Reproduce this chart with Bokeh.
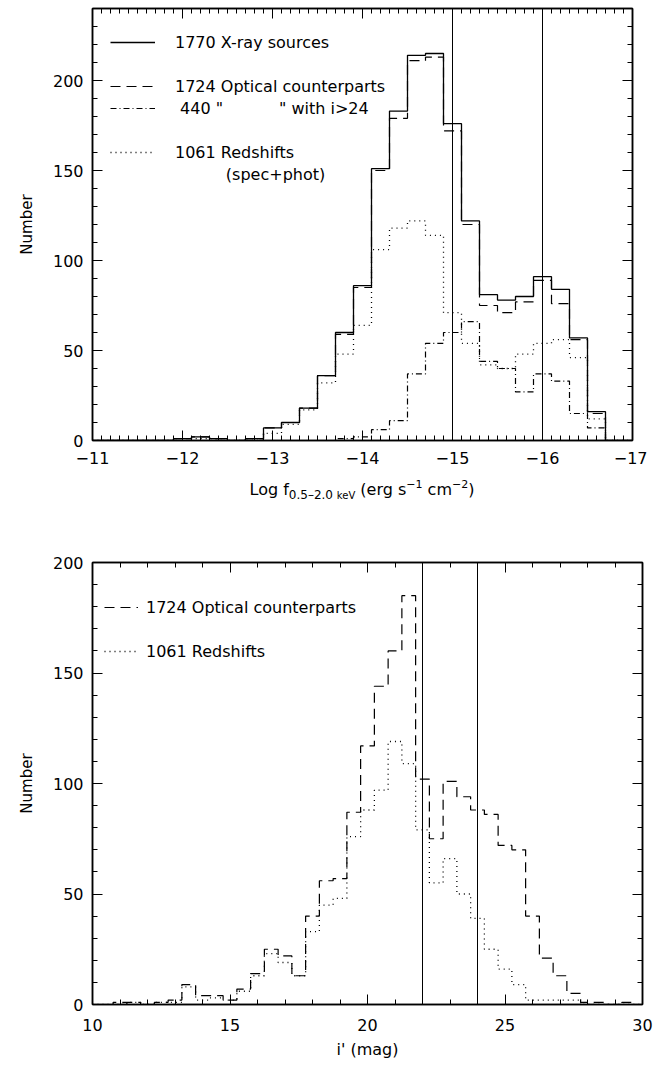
from bokeh.plotting import figure
from bokeh.layouts import column
from bokeh.models import (Range1d, SingleIntervalTicker, LinearAxis, Span,
                          Legend, LegendItem, Div, CustomLabelingPolicy)
from bokeh.embed import file_html
from bokeh.resources import INLINE

# ---------------- data: top panel (soft X-ray flux histogram) ----------------
flux_centers = [-11.0, -11.2, -11.4, -11.6, -11.8, -12.0, -12.2, -12.4, -12.6, -12.8,
                -13.0, -13.2, -13.4, -13.6, -13.8, -14.0, -14.2, -14.4, -14.6, -14.8,
                -15.0, -15.2, -15.4, -15.6, -15.8, -16.0, -16.2, -16.4, -16.6, -16.8, -17.0]
xray_sources = [0, 0, 0, 0, 0, 1, 2, 1, 0, 1,
                7, 10, 18, 36, 60, 86, 151, 183, 214, 215,
                176, 122, 81, 78, 80, 91, 84, 57, 16, 0, 0]
optical_cp = [0, 0, 0, 0, 0, 1, 2, 1, 0, 1,
              7, 10, 18, 36, 59, 85, 150, 179, 211, 213,
              172, 120, 75, 71, 77, 89, 76, 56, 15, 0, 0]
faint_i24 = [0, 0, 0, 0, 0, 0, 0, 0, 0, 0,
             0, 0, 0, 0, 1, 2, 6, 11, 37, 54,
             60, 66, 44, 40, 27, 37, 33, 15, 7, 0, 0]
redshifts = [0, 0, 0, 0, 0, 1, 1, 1, 0, 1,
             4, 9, 17, 32, 48, 64, 106, 118, 122, 114,
             71, 54, 42, 40, 48, 54, 56, 46, 12, 0, 0]
flux_marks = [-15, -16]
flux_tick_values = [-11, -12, -13, -14, -15, -16, -17]
flux_tick_labels = ["\u221211", "\u221212", "\u221213", "\u221214", "\u221215", "\u221216", "\u221217"]

# ---------------- data: bottom panel (i' magnitude histogram) ----------------
mag_centers = [10.0, 10.5, 11.0, 11.5, 12.0, 12.5, 13.0, 13.5, 14.0, 14.5,
               15.0, 15.5, 16.0, 16.5, 17.0, 17.5, 18.0, 18.5, 19.0, 19.5,
               20.0, 20.5, 21.0, 21.5, 22.0, 22.5, 23.0, 23.5, 24.0, 24.5,
               25.0, 25.5, 26.0, 26.5, 27.0, 27.5, 28.0, 28.5, 29.0, 29.5, 30.0]
mag_optical = [0, 0, 1, 1, 0, 1, 2, 9, 4, 4,
               2, 7, 14, 25, 22, 13, 40, 56, 57, 87,
               117, 144, 160, 185, 102, 75, 101, 94, 88, 86,
               72, 70, 40, 21, 13, 5, 1, 1, 0, 1, 0]
mag_redshift = [0, 0, 0, 1, 0, 1, 1, 8, 2, 3,
                2, 6, 13, 23, 19, 13, 33, 45, 48, 76,
                88, 97, 119, 109, 79, 55, 66, 50, 39, 25,
                16, 9, 2, 2, 2, 2, 0, 0, 0, 0, 0]
mag_marks = [22, 24]
mag_tick_values = [10, 15, 20, 25, 30]
mag_tick_labels = ["10", "15", "20", "25", "30"]

FONT = "DejaVu Sans"
SOLID, DASHED, DASHDOT, DOTTED = "solid", "10 6", "6 3 1 3", "1 4"

NO_LABELS = CustomLabelingPolicy(code="""
    const all = Array.from(indices.ones ? indices.ones() : indices)
    for (const i of all) indices.unset(i)
    return indices
""")


def style(p, xticker, yticker):
    p.xgrid.visible = False
    p.ygrid.visible = False
    p.outline_line_color = "black"
    p.outline_line_width = 1.5
    p.background_fill_color = "white"
    p.border_fill_color = "white"
    bx = p.below[0]
    ly = p.left[0]
    bx.ticker = xticker
    ly.ticker = yticker
    top = LinearAxis(ticker=xticker)
    right = LinearAxis(ticker=yticker)
    p.add_layout(top, "above")
    p.add_layout(right, "right")
    for ax in [bx, ly, top, right]:
        ax.axis_line_color = "black"
        ax.axis_line_width = 1.5
        ax.major_tick_in = 10
        ax.major_tick_out = 0
        ax.minor_tick_in = 5
        ax.minor_tick_out = 0
        ax.major_tick_line_color = "black"
        ax.minor_tick_line_color = "black"
        ax.major_tick_line_width = 1
        ax.minor_tick_line_width = 1
        ax.major_label_text_font = FONT
        ax.major_label_text_font_size = "16px"
        ax.major_label_text_color = "black"
        ax.axis_label_text_font = FONT
        ax.axis_label_text_font_style = "normal"
        ax.axis_label_text_color = "black"
    for ax in [top, right]:
        ax.major_label_policy = NO_LABELS
        ax.major_label_standoff = 0
        ax.major_label_text_font_size = "0px"
    bx.major_label_standoff = 11
    ly.major_label_standoff = 9
    ly.axis_label = "Number"
    ly.axis_label_text_font_size = "15px"
    ly.axis_label_standoff = 14
    return bx, ly


# ---------------- top figure ----------------
p1 = figure(frame_width=540, frame_height=432, output_backend="svg", toolbar_location=None,
            x_range=Range1d(-11, -17), y_range=Range1d(0, 240),
            min_border_left=92, min_border_right=15, min_border_top=8, min_border_bottom=32)
bx1, ly1 = style(p1, SingleIntervalTicker(interval=1, num_minor_ticks=10),
                 SingleIntervalTicker(interval=50, num_minor_ticks=5))
bx1.major_label_overrides = dict(zip(flux_tick_values, flux_tick_labels))

r_x = p1.step(flux_centers, xray_sources, mode="center", line_color="black",
              line_width=1.3, line_dash=SOLID)
r_o = p1.step(flux_centers, optical_cp, mode="center", line_color="black",
              line_width=1.2, line_dash=DASHED)
r_f = p1.step(flux_centers, faint_i24, mode="center", line_color="black",
              line_width=1.2, line_dash=DASHDOT)
r_z = p1.step(flux_centers, redshifts, mode="center", line_color="black",
              line_width=1.3, line_dash=DOTTED)
blank1 = p1.line(x=[], y=[], line_alpha=0)
for m in flux_marks:
    p1.add_layout(Span(location=m, dimension="height", line_color="black", line_width=1))

NB = "\u00a0"
leg1 = Legend(items=[
    LegendItem(label="1770 X-ray sources", renderers=[r_x]),
    LegendItem(label=NB, renderers=[blank1]),
    LegendItem(label="1724 Optical counterparts", renderers=[r_o]),
    LegendItem(label=NB + "440 \"" + NB * 11 + "\" with i>24", renderers=[r_f]),
    LegendItem(label=NB, renderers=[blank1]),
    LegendItem(label="1061 Redshifts", renderers=[r_z]),
    LegendItem(label=NB * 10 + "(spec+phot)", renderers=[blank1]),
], location=(18, 255), glyph_width=45, glyph_height=22, label_height=22,
    label_standoff=20, spacing=0, padding=0, margin=0,
    border_line_color=None, background_fill_alpha=0,
    label_text_font=FONT, label_text_font_size="16px", label_text_color="black")
p1.add_layout(leg1)

xlabel1 = Div(text=(
    '<div style="margin-left:92px;width:540px;text-align:center;font-family:\'DejaVu Sans\';'
    'font-size:16px;line-height:20px;padding-top:8px;color:black;white-space:nowrap">'
    'Log f<span style="font-size:12px;position:relative;top:4px">0.5\u20132.0 '
    '<span style="font-size:10px">keV</span></span> (erg s'
    '<span style="font-size:11px;position:relative;top:-7px">\u22121</span> cm'
    '<span style="font-size:11px;position:relative;top:-7px">\u22122</span>)</div>'),
    width=660, height=30, margin=0)

# ---------------- bottom figure ----------------
p2 = figure(frame_width=550, frame_height=442, output_backend="svg", toolbar_location=None,
            x_range=Range1d(10, 30), y_range=Range1d(0, 200),
            min_border_left=92, min_border_right=15, min_border_top=60, min_border_bottom=58)
bx2, ly2 = style(p2, SingleIntervalTicker(interval=5, num_minor_ticks=5),
                 SingleIntervalTicker(interval=50, num_minor_ticks=5))
bx2.major_label_overrides = dict(zip(mag_tick_values, mag_tick_labels))
bx2.major_label_standoff = 14
bx2.axis_label = "i' (mag)"
bx2.axis_label_text_font_size = "16px"
bx2.axis_label_standoff = 6

s_o = p2.step(mag_centers, mag_optical, mode="center", line_color="black",
              line_width=1.2, line_dash=DASHED)
s_z = p2.step(mag_centers, mag_redshift, mode="center", line_color="black",
              line_width=1.3, line_dash=DOTTED)
blank2 = p2.line(x=[], y=[], line_alpha=0)
for m in mag_marks:
    p2.add_layout(Span(location=m, dimension="height", line_color="black", line_width=1))

leg2 = Legend(items=[
    LegendItem(label="1724 Optical counterparts", renderers=[s_o]),
    LegendItem(label=NB, renderers=[blank2]),
    LegendItem(label="1061 Redshifts", renderers=[s_z]),
], location=(12, 342), glyph_width=34, glyph_height=22, label_height=22,
    label_standoff=8, spacing=0, padding=0, margin=0,
    border_line_color=None, background_fill_alpha=0,
    label_text_font=FONT, label_text_font_size="16px", label_text_color="black")
p2.add_layout(leg2)

layout = column(p1, xlabel1, p2, spacing=0)
open("out.html", "w").write(file_html(layout, INLINE))
